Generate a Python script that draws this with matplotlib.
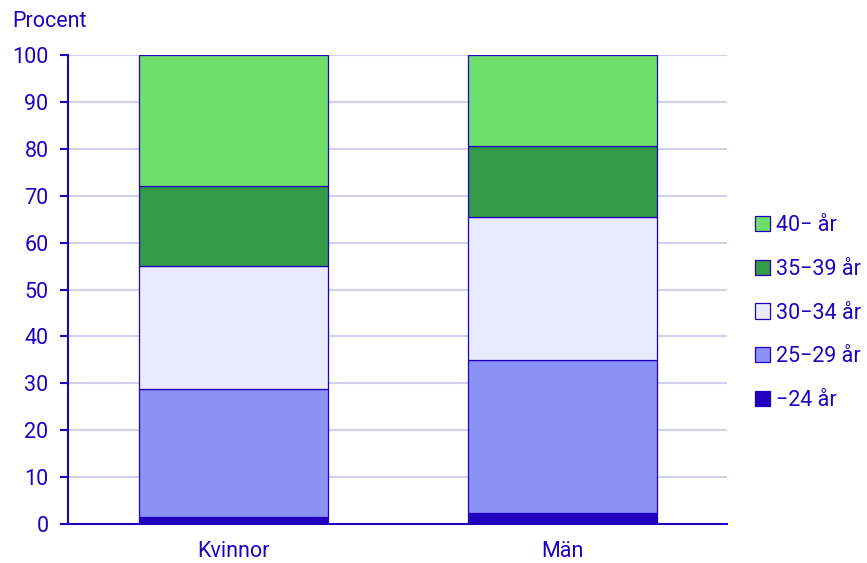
import numpy as np
import matplotlib.pyplot as plt
from matplotlib.patches import Patch

# === Data ===
categories = ["Kvinnor", "Män"]
age_groups = ["\u221224 år", "25\u221229 år", "30\u221234 år", "35\u221239 år", "40\u2212 år"]
under_24 = [1.5, 2.3]
age_25_29 = [27.3, 32.7]
age_30_34 = [26.2, 30.5]
age_35_39 = [17.1, 15.1]
age_40_plus = [27.9, 19.4]

series = [under_24, age_25_29, age_30_34, age_35_39, age_40_plus]
colors = ["#2200c0", "#8c91f5", "#ebebff", "#339a48", "#6fdf6c"]
text_col = "#2200c0"
edge_col = "#2200c0"

plt.rcParams['font.family'] = ['Roboto', 'DejaVu Sans']
fs = 15.5

fig = plt.figure(figsize=(8.67, 5.63), dpi=100)
ax = fig.add_axes([0.0784, 0.0693, 0.760, 0.8327])

x = np.arange(len(categories))
bottom = np.zeros(len(categories))
for vals, col in zip(series, colors):
    ax.bar(x, vals, width=0.574, bottom=bottom, color=col,
           edgecolor=edge_col, linewidth=0.9, zorder=3)
    bottom += np.array(vals)

ax.set_xlim(-0.502, 1.5)
ax.set_ylim(0, 100)
ax.set_yticks(np.arange(0, 101, 10))
ax.set_xticks(x)
ax.set_xticklabels(categories)
ax.grid(axis='y', color='#d2d2f0', linewidth=1.5, zorder=0)
ax.set_axisbelow(True)

for s in ['top', 'right']:
    ax.spines[s].set_visible(False)
ax.spines['left'].set_color(edge_col)
ax.spines['bottom'].set_color(edge_col)
ax.spines['left'].set_linewidth(1.5)
ax.spines['bottom'].set_linewidth(1.5)
ax.tick_params(axis='y', colors=edge_col, labelcolor=text_col, labelsize=fs,
               length=6, width=1.5, pad=8)
ax.tick_params(axis='x', length=0, labelcolor=text_col, labelsize=fs, pad=12)

fig.text(0.014, 0.962, "Procent", color=text_col, fontsize=fs, va='center')

handles = [Patch(facecolor=c, edgecolor=edge_col, linewidth=0.9) for c in colors]
leg = fig.legend(handles[::-1], age_groups[::-1], loc='center left',
                 bbox_to_anchor=(0.871, 0.444), frameon=False,
                 fontsize=fs, labelcolor=text_col, handlelength=0.7,
                 handleheight=0.7, handletextpad=0.25, labelspacing=1.05,
                 borderaxespad=0, borderpad=0)

fig.savefig("out.png", dpi=100)
